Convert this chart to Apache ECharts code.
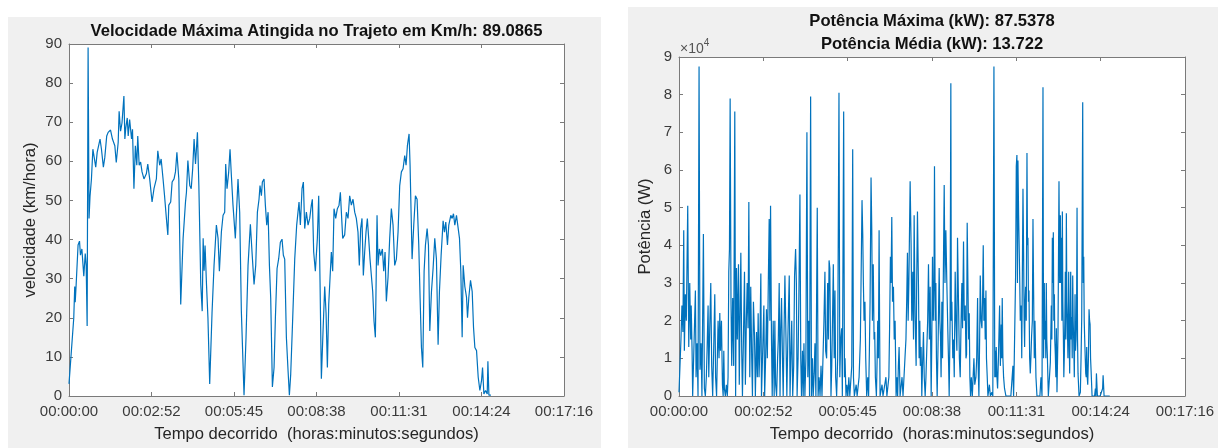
<!DOCTYPE html>
<html>
<head>
<meta charset="utf-8">
<script src="https://cdn.jsdelivr.net/npm/echarts@6/dist/echarts.min.js"></script>
<style>
html,body{margin:0;padding:0;background:#ffffff;}
#c{width:1225px;height:448px;}
</style>
</head>
<body>
<div id="c"></div>
<script>
// ---------------- DATA ----------------
const xTickLabels = ['00:00:00','00:02:52','00:05:45','00:08:38','00:11:31','00:14:24','00:17:16'];
const xTickStepSec = 172.8;
const speedTitle = 'Velocidade Máxima Atingida no Trajeto em Km/h: 89.0865';
const powerTitle1 = 'Potência Máxima (kW): 87.5378';
const powerTitle2 = 'Potência Média (kW): 13.722';
const xName = 'Tempo decorrido  (horas:minutos:segundos)';
const speedYName = 'velocidade (km/hora)';
const powerYName = 'Potência (W)';

// time (s) and speed (km/h)
const speedT = [0,2,10,12,13,15,19,22,24,27,31,34,36,38,40,42,44,47,50,54,56,59,62,65,68,72,75,79,82,87,91,96,99,103,105,108,111,115,117,119,122,124,127,131,133,136,139,142,144,147,150,153,157,162,165,169,174,178,183,186,190,193,197,200,204,207,209,213,216,220,223,226,230,234,239,244,246,249,253,256,259,262,265,267,269,272,276,279,281,283,285,288,291,294.7,
299.6,303.8,308.7,312.2,315,319.2,322.7,326.1,328.2,331,334.5,337.3,340.1,343.5,348.4,354,357.5,361,366.6,370.8,375,379.9,383.4,387.6,391.1,394.6,398,400.1,403,405,408.5,411.3,414.2,417,419.8,422.5,426,429.5,432.3,435.8,439.2,442.7,446.2,449,451.8,455.3,458.8,461.6,464.4,468.6,472.8,476.9,481.8,484.6,488.1,490.9,493.7,497.2,500.7,504.2,507.6,509.7,512.5,516,520.2,523,525.8,528.6,532.1,535.6,538.4,541.2,544,546.8,549.5,552.3,555.1,558.6,562.1,565.6,568.4,570.5,573.3,
577.4,580.9,584.4,587.9,591.4,594.9,598.4,601.8,605.3,608.1,610.9,613.7,616.5,619.3,622.1,624.9,627.7,630.5,633.3,636.1,638.9,641.7,645.2,647.3,650.1,652.9,656.4,659.2,662,664.7,668.2,671.7,675.2,678.7,682.2,685.7,689.2,692.7,696.2,699.7,703.2,706,708.8,712.3,714.4,716.5,718.6,722.1,725.6,729.1,732.6,735.4,738.2,741,743.8,746.6,750.1,752.9,755.7,759.2,762.6,766.1,769.6,773.1,775.9,779.4,783.6,786.4,789.2,792.7,795.5,799.7,802.5,805.3,808.1,811.6,815.1,817.9,820.7,823.5,825.6,829.1,832.6,834.7,837.5,841,844.5,847.3,850.1,853.6,857.1,860.6,864.1,866.2,869,872.5,876,877.4,879.5,883.7];
const speedV = [3.1,3.0,20,28,24,28.5,38.6,39.6,36,37.6,30.6,36.4,33.4,17.9,89.1,45.4,51,55.5,63.1,62.7,58.5,62.3,62.3,65.7,63.1,58.5,61,66.5,67.4,68,65.7,64,59.7,64.8,72.8,67.7,69.8,76.7,65.7,68.6,71.1,66.5,70.7,65.7,68.2,53,64,59,66.5,59,59.8,57.3,55.5,56.8,59.3,55.5,49.6,53,55.5,62.7,59,60.6,55.5,51.4,45.4,41.2,48.8,49.6,54.7,55.5,57.3,62.3,55.5,23.4,40.3,49.6,52.1,60.2,53.8,53,58,65.7,59.3,59,67.4,53.8,28.5,21.7,40.3,32,38.5,28.5,20,3.1,
21.3,33.4,43.7,40.3,31.9,42,46.2,47,59.3,53,57.3,63.1,56.4,48.8,40.3,55.5,47,21.7,0.2,15,33.4,43.9,36.7,28.5,33.4,47,50.3,53.8,51.2,54.7,55.5,48.8,43.7,47,33.4,25,2.3,7.3,20,32.6,35.1,39.3,40.1,36,35,15,6.5,0.2,5.6,20,35,43.7,49.6,43.7,53,54.7,42.8,47,43.7,45.4,48.8,50.3,36.8,31.9,40.3,51.2,29.2,4.4,16.6,28,21.3,7.3,23.4,30.3,36.8,31.9,47.9,45.4,47.9,48.8,52.1,47,40.3,
41.2,47,45.4,51.2,48.8,50.3,47,45.4,41.9,33.4,42.8,45.4,30.8,36.8,41.9,45.4,40.3,35,30.8,26.7,19.1,15,46.2,33.4,37.6,35.9,37.6,31.9,36.8,24.2,30.3,40.3,47.9,43.7,33.4,35,41.9,53.8,57.3,58.1,61.5,59,64,67,59,47,35,43.7,51.2,50.3,38.6,25,12.4,7.3,31.9,38.6,42.8,38.6,16.6,26.7,32.6,40.3,35,13.1,26.7,35.9,44.8,41.9,44.5,38.6,43.7,46.2,45.4,46.6,43.7,46.2,46.6,40.3,31.9,15,33.4,28,25.3,20,25.3,29.6,26.7,17.5,12.4,11.6,4.8,1.4,4,7.3,0.5,1.4,0.5,8.9,0.2,0.2];

// time (s) and power (W)
const powerT = [0,2,4,6,8,9.7,11,13,15,17.9,20,22,24,25,26.8,28,30,33.6,35,37,39,41.1,43,45.2,47,50,52,54,56,57.5,59.6,61,63,65.1,67,69,71,73.3,75,77,78.5,80.1,82,83.6,85,87,89,90.5,91.8,93,95,97,99,100.5,102,103.4,104.8,106.5,108,110,112,114.3,116,117.8,119.5,121.9,123.5,125,126.7,128.5,130,132,134.2,136,138,139.7,141.5,143.1,145,147,149,150.5,152.5,154.7,156.5,158.8,160.5,162.2,164,165.5,167.7,169,171.5,173.9,175.5,177.5,179.3,181,183,184.8,186.2,187.6,189.5,191,193,195,196.4,198,200,202,203.5,205.3,207,208.5,210.1,212,213.5,215,217,219,221,223,225.9,227.5,229.5,231,233,235,236.8,238.9,240.5,242,244,245.5,247.8,249.5,251,253,254.5,256,258,260,262.1,264,266,267.5,269.7,271.5,273.5,275,277,278.6,280.5,283.3,285,287,289,291,293,295,297,299,300.5,302.5,304.6,306,307.5,309,311.4,
313,314.5,316.2,318,319.6,321,323,325.1,327.8,329.5,331.3,333.3,334.7,337.4,339,340.2,342.2,344,346,348,350,352,354,355.9,357.5,359.3,361,363,365,367,369,371.6,373,375,376.5,377.8,379.2,381,382.6,384.6,386.7,388.5,390.1,391.5,393.5,395,396.3,398,399.7,401,402.4,404.5,406,407.2,408.5,410,411,412,414,416,418,420,422,424,426,428,430,431.5,433.2,434.5,436,437.5,439.4,441,442.8,444.8,446.5,448,449.5,451,453,455,457,459,461,463,465,466.5,468.1,469.5,471,473.6,475.6,477,479,480.5,481.8,483.8,485.9,487,488.6,490.7,492,493.4,494.5,496.1,497.5,499,500.9,502.5,504.4,506,507.8,509.5,511.2,513,514.6,516.7,518,519.4,521,522.5,523.5,525,526.3,527.5,529,531,533.1,534.5,535.8,537,538.6,540,541.5,543.4,545,546.8,548.8,550.9,552.5,553.6,555.5,557,558,559.1,561,562.5,564,565.9,567.5,569.4,570.7,572.8,574.5,576.2,578,579.6,581,583,584.5,586.5,588,589.2,590.5,592,593.5,594.7,596,597.4,599,601,603,604.3,606,608.4,610,611.8,613,614.5,616,617.3,619,620.7,622,623.4,624.8,626.1,627.5,628.9,630,631.6,633,634.4,636,638,641.2,643,
645.3,647,648,649,650,651.5,652.8,654.5,656.9,658.5,660.3,661.3,662.3,663.7,665.1,667,669.9,672,674,676,678,680,682,684.2,685.6,687,689.7,691.1,692.4,693.5,694.5,695.9,697.9,699.3,701.3,702.3,703.4,704.8,706.1,707.2,708.2,709.2,710.2,711.5,713,714,715,716,717.1,718.5,719.8,721,722.5,724,725.3,726.6,728,729.4,731.4,733.5,735.5,737.5,739.5,741.7,743.8,745.8,747,748.5,749.5,750.6,751.6,752.6,753.6,754.7,756.8,758.5,760.9,762.9,764,765,766,767,768,769.1,770,771.1,772.2,773.2,774.5,776.6,778.6,780,781.4,782.5,783.4,784.5,785.5,786.5,787.5,788.5,789.6,790.6,791.6,792.7,793.7,794.7,795.7,797,798.5,799.5,800.5,801.5,802.6,803.6,804.6,805.7,806.7,807.7,808.7,810,811.5,812.5,813.5,814.5,815.6,816.6,817.6,819.7,822.4,823.8,825.2,827.2,828.3,829.3,830.3,831.3,832.4,833.4,834.4,835.4,836.5,837.5,838.9,840.2,841.3,842.3,843.3,844.3,846.4,848,850,851.5,853.2,854.3,855.3,857.3,860,863,866,868,869,871,875,879,882.6];
const powerW = [1000,500,15000,24000,17000,44000,12000,27000,20000,50500,13000,30000,15000,24000,12000,0,0,28000,5000,14000,0,87500,7000,14000,0,43000,2000,0,5000,12000,24000,5000,18000,30000,8000,0,12000,27000,5000,0,10000,20000,10000,22000,12000,20000,3000,0,12000,2000,0,3000,0,5000,33000,39000,79000,26000,8000,26000,8000,75500,0,34000,15000,35000,3000,20000,38000,12000,0,15000,33000,3000,20000,30000,18000,51500,5000,29000,10000,0,25000,16000,0,17000,5000,22000,5000,12000,32500,0,12000,24000,0,10000,23000,10000,30000,47000,20000,50500,15000,0,20000,0,20000,3000,0,10000,15000,30000,0,18000,26000,10000,0,15000,32000,17000,0,15000,32000,0,12000,20000,0,8000,32000,39000,30000,0,10000,25000,53500,10000,0,12000,0,14000,0,10000,70000,5000,20000,0,79500,0,10000,0,6000,14000,0,50000,0,5000,0,8000,0,10000,20000,33000,12000,10000,30000,15000,36000,34000,0,
8000,20000,35000,10000,28000,5000,0,10000,80500,5000,15000,18000,0,75500,5000,10000,0,3000,0,5000,0,0,8000,65500,5000,0,0,3000,0,0,5000,15000,30000,52000,43000,30000,20000,25000,10000,0,5000,0,12000,25000,58000,44000,20000,35000,15000,17000,5000,0,10000,20000,10000,44000,20000,0,0,3000,0,0,0,5000,0,0,5000,18000,37000,30000,47500,25000,29000,15000,20000,0,5000,0,8000,13000,0,0,5000,0,0,10000,15000,25000,38000,20000,30000,57000,40000,20000,33000,15000,48000,21000,8000,30000,49000,29000,10000,20000,8000,13000,0,8000,17000,5000,0,5000,5000,20000,35000,15000,29000,0,15000,37000,20000,30000,61000,20000,30000,10000,0,15000,34000,20000,16000,5000,25000,10000,30000,56000,30000,44000,30000,17000,8000,0,20000,83000,20000,25000,10000,15000,5000,33000,20000,12000,42000,24000,10000,5000,20000,30000,18000,41000,20000,24000,10000,11000,46000,30000,15000,22000,5000,0,5000,0,0,10000,3000,5000,10000,26000,8000,0,15000,32000,20000,18000,25000,40000,20000,26000,15000,28000,10000,5000,0,0,3000,0,1000,0,
87500,5000,12000,5000,13000,5000,2000,10000,24000,8000,19000,10000,26000,10000,5000,2000,0,0,0,0,0,0,0,8000,0,10000,32000,61000,64000,30000,62500,48000,33000,20000,24000,10000,30000,55000,38000,20000,13000,25000,29000,20000,64500,40000,42000,25000,28000,10000,6000,10000,16000,20000,47000,28000,10000,20000,5000,0,0,0,0,5000,0,82000,10000,30000,15000,20000,10000,30000,15000,11000,0,0,9000,24000,15000,42000,30000,43500,20000,27000,15000,11000,5000,18000,1000,17000,57000,30000,48000,30000,42000,20000,49000,25000,17000,5000,11000,20000,33000,15000,48500,25000,19000,10000,33000,15000,6000,20000,33000,15000,21000,10000,32000,20000,15000,5000,27000,12000,15000,20000,50000,15000,6000,0,1000,10000,21000,78000,30000,37000,20000,15000,10000,6000,5000,13000,5000,3000,10000,23000,20000,19000,10000,7000,0,0,0,0,2000,0,6000,0,0,0,0,2000,5500,0,0,0,0];

// ---------------- CHART ----------------
const FONT = '"Liberation Sans", Arial, Helvetica, sans-serif';
const FRAME = '#7a7a7a';
const LABEL = '#3a3a3a';
const LINE = '#0072BD';
const X_MAX = xTickStepSec * (xTickLabels.length - 1);

function xFmt(v) { return xTickLabels[Math.round(v / xTickStepSec)] || ''; }

function xAx(grid, bottom) {
  return {
    type: 'value', gridIndex: grid, position: bottom ? 'bottom' : 'top',
    min: 0, max: X_MAX, interval: xTickStepSec,
    axisLine: { show: true, onZero: false, lineStyle: { color: FRAME, width: 1 } },
    axisTick: { show: true, inside: true, length: 4, lineStyle: { color: FRAME } },
    axisLabel: { show: bottom, formatter: xFmt, fontSize: 15, color: LABEL, fontFamily: FONT, margin: 8 },
    splitLine: { show: false },
    name: bottom ? xName : '', nameLocation: 'middle', nameGap: 30,
    nameTextStyle: { fontSize: 16.6, color: '#262626', fontFamily: FONT }
  };
}
function yAx(grid, left, max, interval, fmt, name, gap) {
  return {
    type: 'value', gridIndex: grid, position: left ? 'left' : 'right',
    min: 0, max: max, interval: interval,
    axisLine: { show: true, onZero: false, lineStyle: { color: FRAME, width: 1 } },
    axisTick: { show: true, inside: true, length: 4, lineStyle: { color: FRAME } },
    axisLabel: { show: left, formatter: fmt, fontSize: 15, color: LABEL, fontFamily: FONT, margin: 7 },
    splitLine: { show: false },
    name: left ? name : '', nameLocation: 'middle', nameGap: gap, nameRotate: 90,
    nameTextStyle: { fontSize: 16.6, color: '#262626', fontFamily: FONT }
  };
}

const chart = echarts.init(document.getElementById('c'), null, { renderer: 'canvas' });
chart.setOption({
  animation: false,
  backgroundColor: '#ffffff',
  grid: [
    { left: 69, top: 44, width: 495, height: 355, show: true, backgroundColor: '#ffffff', borderWidth: 0, containLabel: false },
    { left: 679, top: 57, width: 506, height: 341, show: true, backgroundColor: '#ffffff', borderWidth: 0, containLabel: false }
  ],
  xAxis: [xAx(0, true), xAx(0, false), xAx(1, true), xAx(1, false)],
  yAxis: [
    yAx(0, true, 90, 10, v => String(v), speedYName, 30),
    yAx(0, false, 90, 10, v => String(v), '', 0),
    yAx(1, true, 90000, 10000, v => String(Math.round(v / 10000)), powerYName, 25),
    yAx(1, false, 90000, 10000, v => '', '', 0)
  ],
  series: [
    { type: 'line', xAxisIndex: 0, yAxisIndex: 0, showSymbol: false, symbol: 'none',
      lineStyle: { color: LINE, width: 1.2 }, data: speedT.map((t, i) => [t, speedV[i]]) },
    { type: 'line', xAxisIndex: 2, yAxisIndex: 2, showSymbol: false, symbol: 'none',
      lineStyle: { color: LINE, width: 1.2 }, data: powerT.map((t, i) => [t, powerW[i]]) }
  ],
  graphic: [
    { type: 'rect', z: -10, silent: true, shape: { x: 8, y: 17, width: 593, height: 431 }, style: { fill: '#f0f0f0' } },
    { type: 'rect', z: -10, silent: true, shape: { x: 628, y: 7, width: 590, height: 441 }, style: { fill: '#f0f0f0' } },
    { type: 'text', style: { x: 316.5, y: 31.5, text: speedTitle, textAlign: 'center', textVerticalAlign: 'middle',
        font: 'bold 16.6px ' + FONT, fill: '#111111' } },
    { type: 'text', style: { x: 932, y: 21.5, text: powerTitle1, textAlign: 'center', textVerticalAlign: 'middle',
        font: 'bold 16.6px ' + FONT, fill: '#111111' } },
    { type: 'text', style: { x: 932, y: 44.3, text: powerTitle2, textAlign: 'center', textVerticalAlign: 'middle',
        font: 'bold 16.6px ' + FONT, fill: '#111111' } },
    { type: 'text', style: { x: 680, y: 56, textVerticalAlign: 'bottom',
        text: '{a|×10}{b|4}',
        rich: {
          a: { fontSize: 14, fontFamily: FONT, fill: '#555555', verticalAlign: 'bottom' },
          b: { fontSize: 10, fontFamily: FONT, fill: '#555555', verticalAlign: 'top', padding: [0, 0, 8, 0] }
        } } }
  ]
});
</script>
</body>
</html>
